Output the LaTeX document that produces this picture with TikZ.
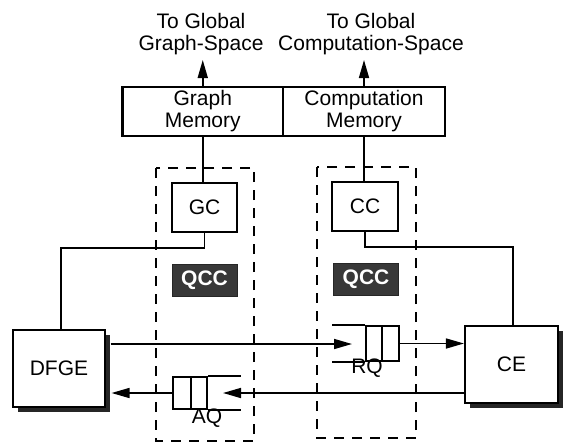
\documentclass[tikz,border=0pt]{standalone}
\usepackage{fontspec}
\setmainfont{Liberation Sans}
\usetikzlibrary{arrows.meta,shadows}
\begin{document}
\begin{tikzpicture}[x=1pt,y=-1pt,
  every node/.style={font=\fontsize{21}{22}\selectfont},
  box/.style={draw, line width=2.1pt, inner sep=0pt, align=center},
  shbox/.style={box, fill=white, drop shadow={shadow xshift=4.5pt, shadow yshift=-4.5pt, fill=black!85, opacity=1}},
  qcc/.style={fill=black!78, draw=black!85, line width=1pt, inner sep=0pt, minimum width=65pt, minimum height=32pt, text=white, font=\fontsize{21}{21}\bfseries},
  region/.style={draw, line width=2.2pt, dash pattern=on 10pt off 8pt},
  conn/.style={line width=1.6pt},
  arr/.style={conn, -{Triangle[length=18pt,width=10pt]}},
  qline/.style={line width=2pt},
  lbl/.style={inner sep=0pt}]
\useasboundingbox (0,0) rectangle (565,447);

% dashed regions
\draw[region] (156,168) rectangle (254,441);
\draw[region] (317,167) rectangle (416,438);

% top labels
\node[lbl, align=center] (tg1) at (201,34) {To Global\\Graph-Space};
\node[lbl, align=center] (tg2) at (371,34) {To Global\\Computation-Space};
\coordinate (tg1a) at (203,60);
\coordinate (tg2a) at (364,60);

% memories
\node[box, minimum width=160.5pt, minimum height=49pt] (gm) at (202.75,111.5) {Graph\\Memory};
\node[box, minimum width=162pt, minimum height=49pt] (cm) at (364,111.5) {Computation\\Memory};

% controllers
\node[box, minimum width=65pt, minimum height=49pt] (gc) at (204.5,207.5) {GC};
\node[box, minimum width=66pt, minimum height=49pt] (cc) at (365,206.5) {CC};

% QCC
\node[qcc] (q1) at (204.5,280) {QCC};
\node[qcc] (q2) at (366,279.5) {QCC};

% engines
\node[shbox, minimum width=92pt, minimum height=77pt] (dfge) at (59,368.5) {DFGE};
\node[shbox, minimum width=93pt, minimum height=77pt] (ce) at (511.5,364.5) {CE};

% queues
\node[draw, qline, inner sep=0pt, minimum width=34pt, minimum height=32pt] (aq) at (190,393) {};
\draw[qline] (191,377) -- (191,409);
\draw[qline] (aq.north east) -- ++(33,0);
\draw[qline] (aq.south east) -- ++(33,0);
\node[lbl] (aql) at (207,418.5) {AQ};

\node[draw, qline, inner sep=0pt, minimum width=33pt, minimum height=35pt] (rq) at (382.5,343.5) {};
\draw[qline] (382,326) -- (382,361);
\draw[qline] (rq.north west) -- ++(-33,0);
\draw[qline] (rq.south west) -- ++(-33,0);
\node[lbl] (rql) at (367,368.5) {RQ};

\coordinate (rqin) at (352,344);
\coordinate (aqin) at (223,393);
\coordinate (gcturn) at (61,248);
\coordinate (ccturn) at (513,247);

% connectors
\draw[arr] (gm.north) -- (gm.north |- tg1a);
\draw[arr] (cm.north) -- (cm.north |- tg2a);
\draw[conn] (gm.south) -- (gm.south |- gc.north);
\draw[conn] (cm.south) -- (cm.south |- cc.north);
\draw[conn] (gc.south) |- (gcturn) -- (gcturn |- dfge.north);
\draw[conn] (cc.south) |- (ccturn) -- (ccturn |- ce.north);
\draw[arr] ([xshift=4.5pt]dfge.east |- rqin) -- (rqin);
\draw[arr] (rq.east) -- (ce.west |- rq.east);
\draw[arr] (ce.west |- aqin) -- (aqin);
\draw[arr] (aq.west) -- ([xshift=5.5pt]dfge.east |- aq.west);
\end{tikzpicture}
\end{document}
